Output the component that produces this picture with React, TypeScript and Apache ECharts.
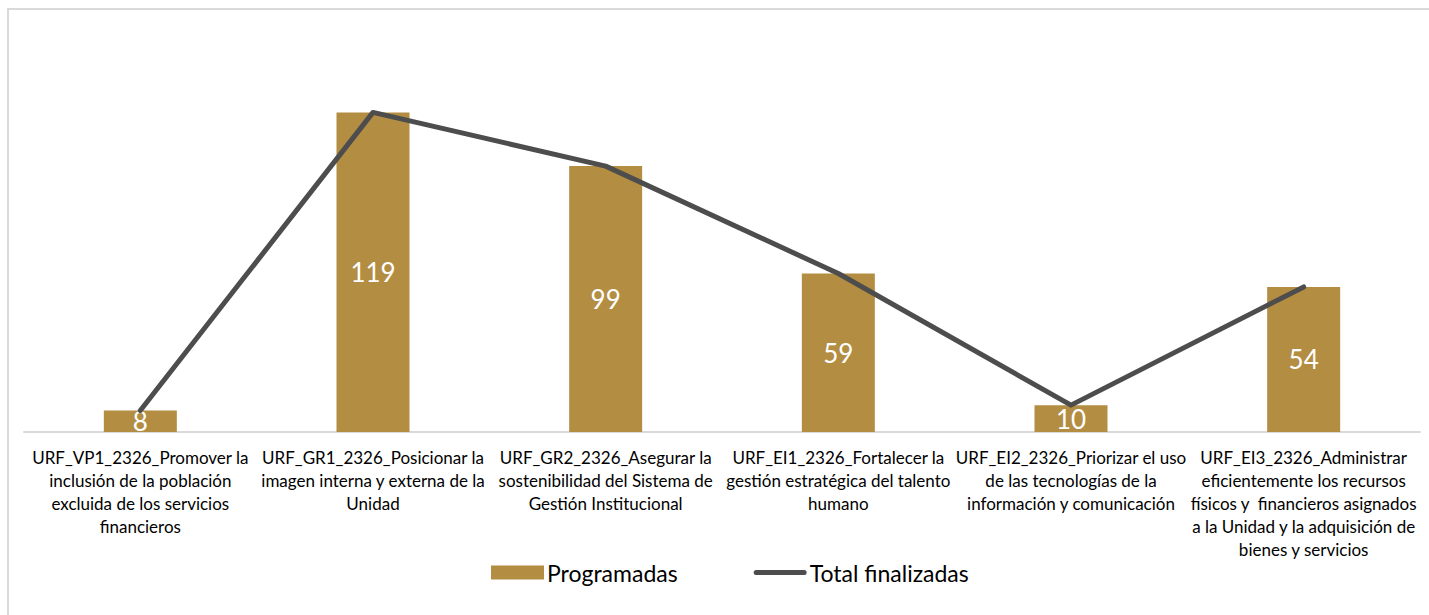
import React, { useEffect, useRef } from "react";
import * as echarts from "echarts";

const categories = [
  "URF_VP1_2326_Promover la\ninclusión de la población\nexcluida de los servicios\nfinancieros",
  "URF_GR1_2326_Posicionar la\nimagen interna y externa de la\nUnidad",
  "URF_GR2_2326_Asegurar la\nsostenibilidad del Sistema de\nGestión Institucional",
  "URF_EI1_2326_Fortalecer la\ngestión estratégica del talento\nhumano",
  "URF_EI2_2326_Priorizar el uso\nde las tecnologías de la\ninformación y comunicación",
  "URF_EI3_2326_Administrar\neficientemente los recursos\nfísicos y  financieros asignados\na la Unidad y la adquisición de\nbienes y servicios",
];
const programadas = [8, 119, 99, 59, 10, 54];
const totalFinalizadas = [8, 119, 99, 59, 10, 54];

const FONT = "Lato, 'Open Sans', sans-serif";
const LINE_ICON =
  "path://M2.5,0 H50.5 A2.5,2.5 0 0 1 50.5,5 H2.5 A2.5,2.5 0 0 1 2.5,0 Z";

export default function App() {
  const ref = useRef<HTMLDivElement>(null);
  useEffect(() => {
    if (!ref.current) return;
    const chart = echarts.init(ref.current, null, { renderer: "svg" });
    chart.setOption({
      animation: false,
      backgroundColor: "#ffffff",
      textStyle: { fontFamily: FONT },
      graphic: [
        {
          type: "rect",
          shape: { x: 8, y: 9, width: 1500, height: 700 },
          style: { fill: "none", stroke: "#d9d9d9", lineWidth: 2 },
          silent: true,
        },
      ],
      grid: { left: 24, right: 9, top: 56, bottom: 183, containLabel: false },
      legend: {
        bottom: 26,
        left: 486,
        itemGap: 76,
        itemWidth: 53,
        itemHeight: 14,
        textStyle: { fontSize: 23, color: "#000", fontFamily: FONT, padding: [0, 0, 0, -2] },
        data: [
          { name: "Programadas", icon: "rect" },
          { name: "Total finalizadas", icon: LINE_ICON, itemStyle: { color: "#4d4d4d" } },
        ],
      },
      xAxis: {
        type: "category",
        data: categories,
        axisLine: { lineStyle: { color: "#d9d9d9", width: 2 } },
        axisTick: { show: false },
        axisLabel: {
          interval: 0,
          margin: 14,
          color: "#000",
          fontSize: 17,
          lineHeight: 23,
          fontFamily: FONT,
          align: "center",
        },
      },
      yAxis: {
        type: "value",
        min: 0,
        max: 140,
        show: false,
        splitLine: { show: false },
      },
      series: [
        {
          name: "Programadas",
          type: "bar",
          data: programadas,
          barWidth: 73,
          itemStyle: { color: "#B38D42" },
          label: {
            show: true,
            position: "inside",
            color: "#ffffff",
            fontSize: 26,
            fontFamily: FONT,
          },
        },
        {
          name: "Total finalizadas",
          type: "line",
          data: totalFinalizadas,
          symbol: "none",
          showSymbol: false,
          lineStyle: { color: "#4d4d4d", width: 5, cap: "round", join: "round" },
          itemStyle: { color: "#4d4d4d" },
          z: 3,
        },
      ],
    });
    return () => chart.dispose();
  }, []);
  return (
    <div
      ref={ref}
      style={{ position: "absolute", left: 0, top: 0, width: 1429, height: 615 }}
    />
  );
}
